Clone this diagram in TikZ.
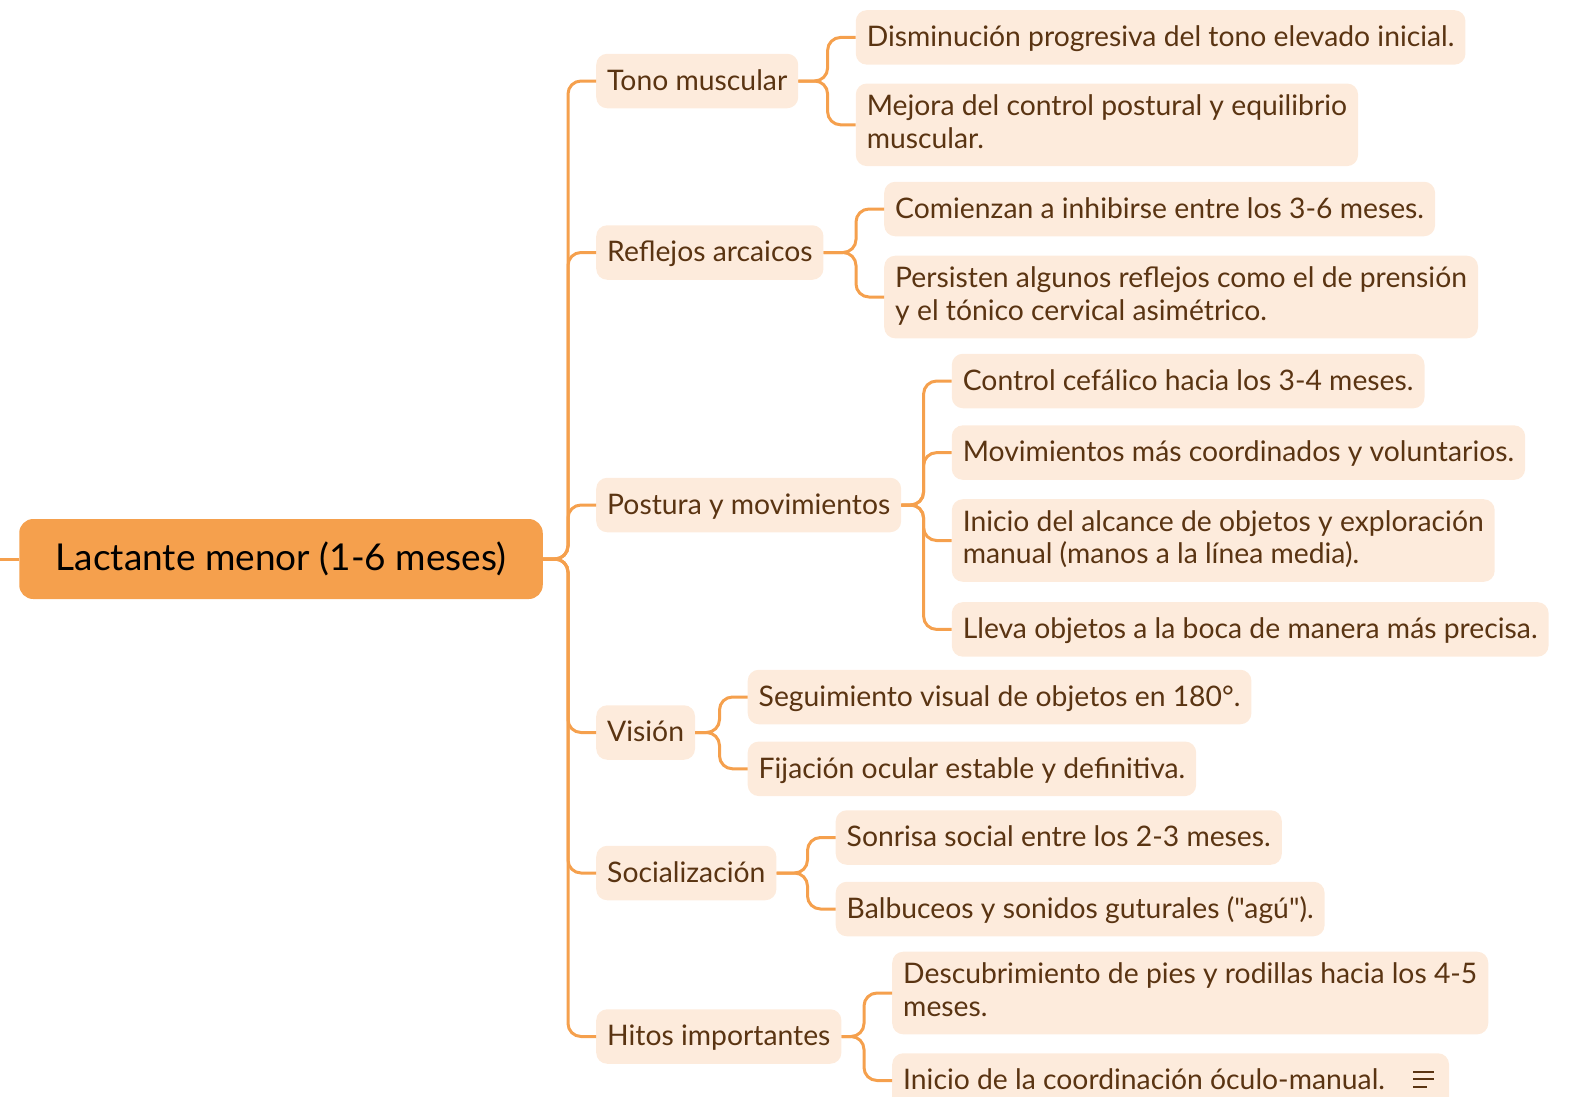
\documentclass[tikz,border=0pt]{standalone}
\usepackage{fontspec}
\setmainfont{Lato}[Ligatures=TeXOff]
\definecolor{mainorange}{HTML}{F5A04D}
\definecolor{leafpeach}{HTML}{FDEBDC}
\definecolor{leafbrown}{HTML}{5A3412}
\newcommand{\leafstrut}{\rule[-6.85pt]{0pt}{32.1pt}}
\tikzset{
  link/.style={draw=mainorange, line width=3pt, rounded corners=13pt},
  leaf/.style={fill=leafpeach, text=leafbrown, rounded corners=11pt, anchor=west,
    align=left, inner xsep=11pt, inner ysep=11.2pt,
    font=\fontsize{28.3}{32.5}\selectfont,
    execute at begin node=\leafstrut, execute at end node=\leafstrut},
  rootbox/.style={fill=mainorange, rounded corners=14pt, minimum width=523.5pt,
    minimum height=80pt, font=\fontsize{37}{42}\selectfont}
}
\newcommand{\drawleaf}[4]{
  \node[leaf] (#1) at (#2,#3) {#4};
}
\newcommand{\drawlink}[2]{
  \draw[link] (#1.east) -| ([xshift=-28pt]#2.west) -- (#2.west);
}

\begin{document}
\begin{tikzpicture}[x=1pt,y=-1pt]
  \clip (0,0) rectangle (1584,1096);

  \node[rootbox] (root) at (281,559) {Lactante menor (1-6 meses)};
  \coordinate (edge) at (0,559);
  \draw[link] (edge) -- (root.west);

  \drawleaf{tono}{596}{81}{Tono muscular}
  \drawleaf{reflejos}{596}{252.5}{Reflejos arcaicos}
  \drawleaf{postura}{596}{505}{Postura y movimientos}
  \drawleaf{vision}{596}{732.5}{Visión}
  \drawleaf{social}{596}{873}{Socialización}
  \drawleaf{hitos}{596}{1036.5}{Hitos importantes}

  \drawleaf{dism}{855.6}{37.4}{Disminución progresiva del tono elevado inicial.}
  \drawleaf{mejora}{855.6}{124.8}{Mejora del control postural y equilibrio\\muscular.}

  \drawleaf{inhib}{884}{209}{Comienzan a inhibirse entre los 3-6 meses.}
  \drawleaf{persist}{884}{297}{Persisten algunos reflejos como el de prensión\\y el tónico cervical asimétrico.}

  \drawleaf{cefal}{951.6}{381}{Control cefálico hacia los 3-4 meses.}
  \drawleaf{movim}{951.6}{452.6}{Movimientos más coordinados y voluntarios.}
  \drawleaf{alcance}{951.6}{540.5}{Inicio del alcance de objetos y exploración\\manual (manos a la línea media).}
  \drawleaf{boca}{951.6}{629.4}{Lleva objetos a la boca de manera más precisa.}

  \drawleaf{seguim}{747.5}{697}{Seguimiento visual de objetos en 180°.}
  \drawleaf{fijac}{747.5}{768.8}{Fijación ocular estable y definitiva.}

  \drawleaf{sonrisa}{835.5}{837.5}{Sonrisa social entre los 2-3 meses.}
  \drawleaf{balbuc}{835.5}{909}{Balbuceos y sonidos guturales ("agú").}

  \drawleaf{pies}{892}{993}{Descubrimiento de pies y rodillas hacia los 4-5\\meses.}
  \drawleaf{oculo}{892}{1080.5}{Inicio de la coordinación óculo-manual.\hspace*{53pt}}

  \foreach \b in {tono,reflejos,postura,vision,social,hitos}{
    \drawlink{root}{\b}
  }
  \foreach \c in {dism,mejora}{\drawlink{tono}{\c}}
  \foreach \c in {inhib,persist}{\drawlink{reflejos}{\c}}
  \foreach \c in {cefal,movim,alcance,boca}{\drawlink{postura}{\c}}
  \foreach \c in {seguim,fijac}{\drawlink{vision}{\c}}
  \foreach \c in {sonrisa,balbuc}{\drawlink{social}{\c}}
  \foreach \c in {pies,oculo}{\drawlink{hitos}{\c}}

  \draw[leafbrown, line width=2pt] ([xshift=-36pt,yshift=8.5pt]oculo.east) -- ++(21,0);
  \draw[leafbrown, line width=2pt] ([xshift=-36pt,yshift=1.5pt]oculo.east) -- ++(21,0);
  \draw[leafbrown, line width=2pt] ([xshift=-36pt,yshift=-6.5pt]oculo.east) -- ++(14,0);
\end{tikzpicture}
\end{document}
